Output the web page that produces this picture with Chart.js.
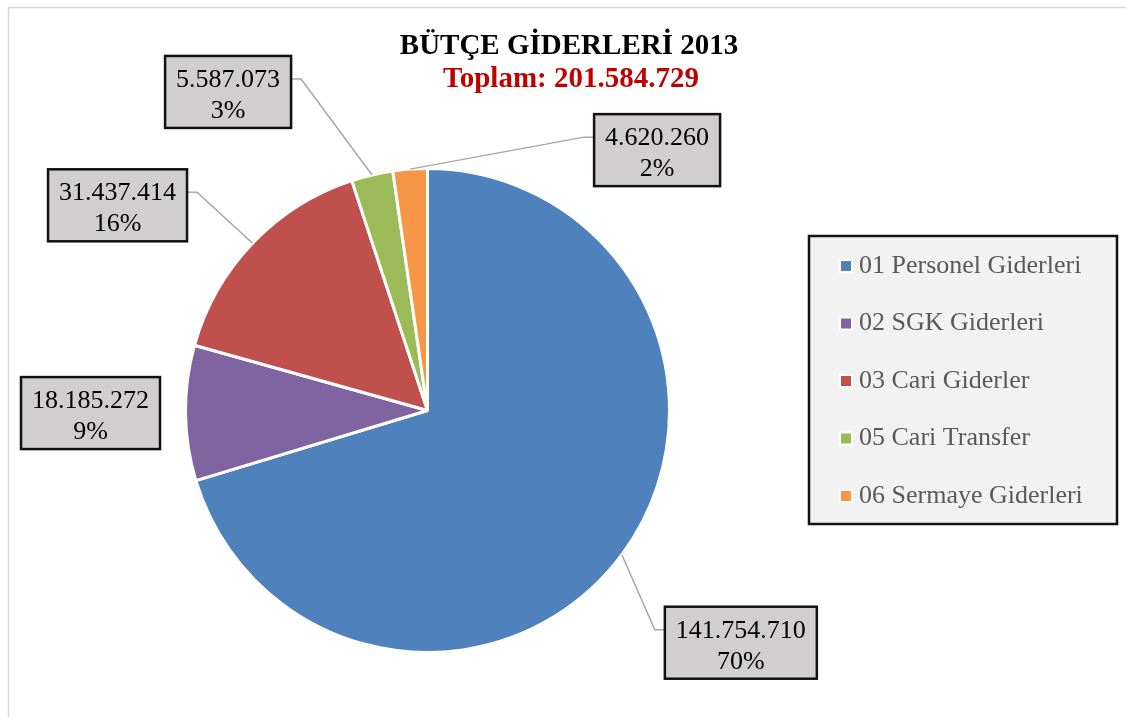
<!DOCTYPE html>
<html>
<head>
<meta charset="utf-8">
<script src="https://cdn.jsdelivr.net/npm/chart.js@4"></script>
<style>
    html, body { margin: 0; padding: 0; background: #fff; }
    #wrap { width: 1126px; height: 717px; }
</style>
</head>
<body>
<div id="wrap"><canvas id="butceChart" width="1126" height="717"></canvas></div>
<script>
const categories = ['01 Personel Giderleri', '02 SGK Giderleri', '03 Cari Giderler', '05 Cari Transfer', '06 Sermaye Giderleri'];
const amounts = [141754710, 18185272, 31437414, 5587073, 4620260];
const sliceColors = ['#4F81BD', '#8064A2', '#C0504D', '#9BBB59', '#F79646'];
const titleText = 'BÜTÇE GİDERLERİ 2013';
const totalText = 'Toplam: 201.584.729';

// where each value box sits, relative to the slice edge point (dx, dy), and whether it has a leader
const labelOffsets = [[119, 88], [-95, 0], [-135, -38], [-144, -83], [247, -19]];
const labelLeaders = [true, false, true, true, true];

const serif = "'Liberation Serif', 'Times New Roman', serif";

function formatTr(n) {
    return String(n).replace(/\B(?=(\d{3})+(?!\d))/g, '.');
}

const decorPlugin = {
    id: 'decor',
    afterDraw(chart) {
        const ctx = chart.ctx;
        const meta = chart.getDatasetMeta(0);
        const data = chart.data.datasets[0].data;
        const total = data.reduce((a, b) => a + b, 0);

        ctx.save();

        // faint outer frame (top + left only visible)
        ctx.strokeStyle = '#d9d9d9';
        ctx.lineWidth = 1.5;
        ctx.beginPath();
        ctx.moveTo(8.5, 717);
        ctx.lineTo(8.5, 7.5);
        ctx.lineTo(1126, 7.5);
        ctx.stroke();

        // title
        ctx.textAlign = 'center';
        ctx.textBaseline = 'alphabetic';
        ctx.font = 'bold 29px ' + serif;
        ctx.fillStyle = '#000';
        ctx.fillText(titleText, 569, 54);
        ctx.fillStyle = '#C00000';
        ctx.fillText(totalText, 571, 87);

        // value labels
        ctx.font = '26px ' + serif;
        meta.data.forEach((arc, i) => {
            const p = arc.getProps(['x', 'y', 'startAngle', 'endAngle', 'outerRadius'], true);
            const mid = (p.startAngle + p.endAngle) / 2;
            const ex = p.x + Math.cos(mid) * p.outerRadius;
            const ey = p.y + Math.sin(mid) * p.outerRadius;
            const cx = ex + labelOffsets[i][0];
            const cy = ey + labelOffsets[i][1];

            const line1 = formatTr(data[i]);
            const line2 = Math.round(data[i] / total * 100) + '%';
            const w = Math.max(ctx.measureText(line1).width, ctx.measureText(line2).width) + 22;
            const h = 72;
            const left = cx - w / 2;
            const top = cy - h / 2;

            if (labelLeaders[i]) {
                const onRight = cx > ex;
                const sideX = onRight ? left : left + w;
                const elbowX = onRight ? sideX - 10 : sideX + 10;
                const attachY = top + 23;
                ctx.strokeStyle = '#A6A6A6';
                ctx.lineWidth = 1.5;
                ctx.beginPath();
                ctx.moveTo(ex, ey);
                ctx.lineTo(elbowX, attachY);
                ctx.lineTo(sideX, attachY);
                ctx.stroke();
            }

            ctx.fillStyle = '#D0CECE';
            ctx.fillRect(left, top, w, h);
            ctx.strokeStyle = '#111';
            ctx.lineWidth = 2.5;
            ctx.strokeRect(left, top, w, h);

            ctx.fillStyle = '#000';
            ctx.textAlign = 'center';
            ctx.fillText(line1, cx, top + 31);
            ctx.fillText(line2, cx, top + 62);
        });

        // legend
        const lx = 809, ly = 236, lw = 308, lh = 288;
        ctx.fillStyle = '#F2F2F2';
        ctx.fillRect(lx, ly, lw, lh);
        ctx.strokeStyle = '#111';
        ctx.lineWidth = 2.5;
        ctx.strokeRect(lx, ly, lw, lh);

        ctx.textAlign = 'left';
        ctx.textBaseline = 'middle';
        ctx.font = '26px ' + serif;
        chart.data.labels.forEach((lab, i) => {
            const yc = 266 + i * 57.5;
            ctx.fillStyle = '#fff';
            ctx.fillRect(839, yc - 7, 14, 14);
            ctx.fillStyle = chart.data.datasets[0].backgroundColor[i];
            ctx.fillRect(841, yc - 5, 10, 10);
            ctx.fillStyle = '#595959';
            ctx.fillText(lab, 859, yc);
        });

        ctx.restore();
    }
};

const ctx = document.getElementById('butceChart').getContext('2d');
new Chart(ctx, {
    type: 'pie',
    data: {
        labels: categories,
        datasets: [
            {
                data: amounts,
                backgroundColor: sliceColors,
                borderColor: '#ffffff',
                borderWidth: 3
            }
        ]
    },
    options: {
        responsive: false,
        animation: false,
        layout: {
            padding: { left: 184, right: 455, top: 167, bottom: 63 }
        },
        plugins: {
            legend: { display: false },
            title: { display: false },
            tooltip: { enabled: false }
        }
    },
    plugins: [decorPlugin]
});
</script>
</body>
</html>
